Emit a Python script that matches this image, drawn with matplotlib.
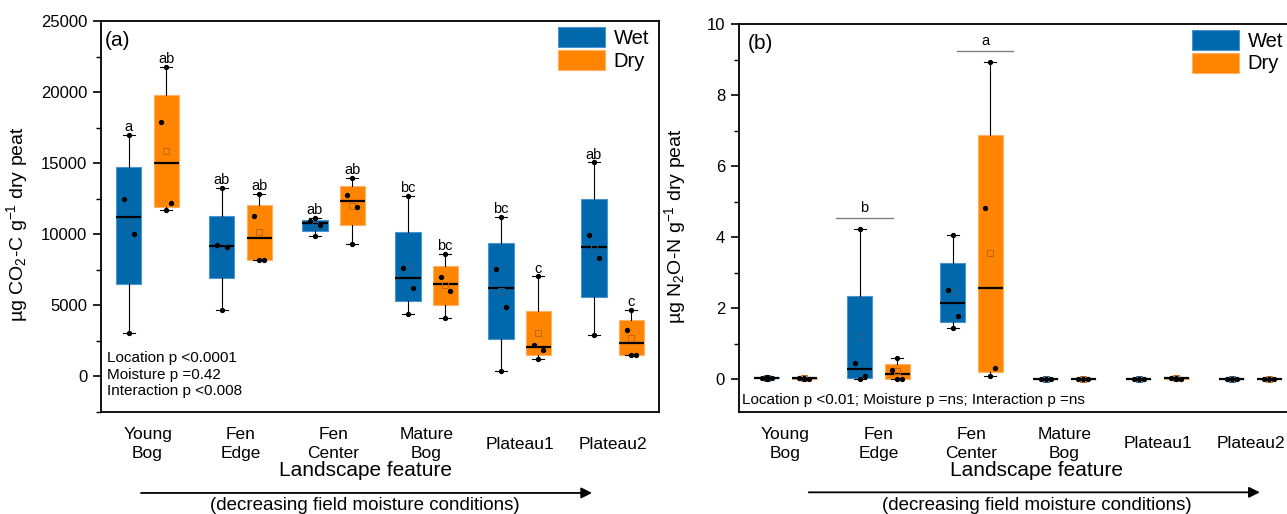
import numpy as np
import matplotlib
matplotlib.use("Agg")
import matplotlib.pyplot as plt
import matplotlib.transforms as mtransforms
from matplotlib.patches import Patch
from matplotlib.ticker import MultipleLocator

plt.rcParams['font.family'] = ['Liberation Sans', 'DejaVu Sans']
plt.rcParams['mathtext.fontset'] = 'custom'
plt.rcParams['mathtext.rm'] = 'Liberation Sans'
plt.rcParams['mathtext.it'] = 'Liberation Sans:italic'

# --- data (4 samples per box) ---
sites = ["Young\nBog", "Fen\nEdge", "Fen\nCenter", "Mature\nBog", "Plateau1", "Plateau2"]

co2_wet = [[17000, 12460, 9980, 3030],
           [13240, 9230, 9080, 4670],
           [11105, 10915, 10634, 9838],
           [12676, 7629, 6176, 4388],
           [11197, 7512, 4859, 352],
           [15047, 9908, 8287, 2910]]
co2_dry = [[21760, 17887, 12159, 11669],
           [12816, 11289, 8169, 8169],
           [13966, 12769, 11925, 9317],
           [8591, 6972, 5986, 4061],
           [7019, 2206, 1854, 1173],
           [4670, 3240, 1455, 1455]]
co2_wet_letters = ["a", "ab", "ab", "bc", "bc", "ab"]
co2_dry_letters = ["ab", "ab", "ab", "bc", "c", "c"]

n2o_wet = [[0.06, 0.04, 0.02, 0.01],
           [4.23, 0.46, 0.08, 0.00],
           [4.05, 2.50, 1.77, 1.45],
           [0.01, 0.00, 0.00, 0.00],
           [0.01, 0.01, 0.00, 0.00],
           [0.01, 0.00, 0.00, 0.00]]
n2o_dry = [[0.03, 0.02, 0.01, 0.00],
           [0.59, 0.26, 0.00, 0.00],
           [8.92, 4.83, 0.32, 0.08],
           [0.01, 0.01, 0.00, 0.00],
           [0.03, 0.02, 0.01, 0.00],
           [0.01, 0.00, 0.00, 0.00]]
n2o_bar_sites = [2, 3]
n2o_bar_y = [4.53, 9.24]
n2o_bar_letters = ["b", "a"]

BLUE = "#0068ab"
ORANGE = "#ff8500"


def box_stats(groups):
    stats = []
    for vals in groups:
        v = np.asarray(vals, float)
        q1, med, q3 = np.percentile(v, [25, 50, 75], method="midpoint")
        stats.append(dict(whislo=v.min(), q1=q1, med=med, q3=q3,
                          whishi=v.max(), mean=v.mean(), fliers=[]))
    return stats


def draw_boxes(ax, groups, positions, color, edge, meanc):
    ax.bxp(box_stats(groups), positions=positions, widths=0.27,
           patch_artist=True, showmeans=True, showfliers=False, manage_ticks=False,
           boxprops=dict(facecolor=color, edgecolor=edge, linewidth=0.8),
           medianprops=dict(color="black", linewidth=1.6),
           whiskerprops=dict(color="black", linewidth=0.8),
           capprops=dict(color="black", linewidth=0.8),
           meanprops=dict(marker="s", markerfacecolor="none", markeredgecolor=meanc,
                          markersize=4.5, markeredgewidth=0.7))
    # raw samples on top of the boxes
    offs = [0.0, -0.05, 0.05, 0.0]
    for p, vals in zip(positions, groups):
        vs = sorted(vals, reverse=True)
        ax.plot([p + o for o in offs[:len(vs)]], vs, "o", color="black",
                markersize=2.8, zorder=5)


def style_axes(ax, major, minor):
    for s in ax.spines.values():
        s.set_linewidth(1.3)
    ax.yaxis.set_major_locator(MultipleLocator(major))
    ax.yaxis.set_minor_locator(MultipleLocator(minor))
    ax.tick_params(axis="y", which="major", direction="out", length=6, width=1.2,
                   labelsize=12, pad=4)
    ax.tick_params(axis="y", which="minor", direction="out", length=3.5, width=1.0)
    ax.tick_params(axis="x", which="both", bottom=False, labelbottom=False)
    ax.set_xlim(0.5, 6.5)


def bottom_labels(ax, arrow_from, arrow_to, text_x):
    trans = mtransforms.blended_transform_factory(ax.transData, ax.transAxes)
    for i, name in enumerate(sites):
        ax.text(i + 1, -0.082, name, transform=trans, ha="center", va="center",
                fontsize=12.5, linespacing=1.35, clip_on=False)
    ax.text(text_x, -0.15, "Landscape feature", transform=trans, ha="center",
            va="center", fontsize=15, clip_on=False)
    ax.annotate("", xy=(arrow_to, -0.207), xytext=(arrow_from, -0.207),
                xycoords=trans, textcoords=trans, annotation_clip=False,
                arrowprops=dict(arrowstyle="-|>", color="black", lw=1.3,
                                mutation_scale=16, shrinkA=0, shrinkB=0))
    ax.text(text_x, -0.24, "(decreasing field moisture conditions)", transform=trans,
            ha="center", va="center", fontsize=13.5, clip_on=False)


def add_legend(ax, x):
    handles = [Patch(facecolor=BLUE, edgecolor="#4a95d0", linewidth=0.8),
               Patch(facecolor=ORANGE, edgecolor="#ffb060", linewidth=0.8)]
    ax.legend(handles, ["Wet", "Dry"], loc="upper left", bbox_to_anchor=(x, 0.985),
              frameon=False, fontsize=14.5, handlelength=2.35, handleheight=1.15,
              handletextpad=0.4, labelspacing=0.1, borderpad=0, borderaxespad=0)


fig = plt.figure(figsize=(12.87, 5.14), dpi=100)
ax1 = fig.add_axes([0.0785, 0.1984, 0.4336, 0.7607])
ax2 = fig.add_axes([0.5742, 0.1984, 0.4336, 0.7549])

pos = np.arange(1, len(sites) + 1)
wet_pos = pos - 0.2
dry_pos = pos + 0.2

# (a) CO2
draw_boxes(ax1, co2_wet, wet_pos, BLUE, "#4a95d0", "#2b5d8c")
draw_boxes(ax1, co2_dry, dry_pos, ORANGE, "#ffb060", "#c0651a")
for p, vals, lab in zip(wet_pos, co2_wet, co2_wet_letters):
    ax1.text(p, max(vals) + 60, lab, ha="center", va="bottom", fontsize=10.5)
for p, vals, lab in zip(dry_pos, co2_dry, co2_dry_letters):
    ax1.text(p, max(vals) + 60, lab, ha="center", va="bottom", fontsize=10.5)
ax1.set_ylim(-2535, 25000)
style_axes(ax1, 5000, 2500)
ax1.set_ylabel("\u00b5g CO$_2$-C g$^{\\mathrm{-1}}$ dry peat", fontsize=14)
ax1.yaxis.set_label_coords(-0.128, 0.48)
ax1.text(0.007, 0.951, "(a)", transform=ax1.transAxes, ha="left", va="center",
         fontsize=15)
ax1.text(0.011, 0.155, "Location p <0.0001\nMoisture p =0.42\nInteraction p <0.008",
         transform=ax1.transAxes, ha="left", va="top", fontsize=11, linespacing=1.2)
add_legend(ax1, 0.819)
bottom_labels(ax1, 0.93, 5.78, 3.34)

# (b) N2O
draw_boxes(ax2, n2o_wet, wet_pos, BLUE, "#4a95d0", "#2b5d8c")
draw_boxes(ax2, n2o_dry, dry_pos, ORANGE, "#ffb060", "#c0651a")
bar_span = [(-0.46, 0.16), (-0.16, 0.45)]
for site, y, lab, (a, b) in zip(n2o_bar_sites, n2o_bar_y, n2o_bar_letters, bar_span):
    ax2.plot([site + a, site + b], [y, y], color="#808080", lw=1.0)
    ax2.text(site + (a + b) / 2, y + 0.08, lab, ha="center", va="bottom", fontsize=10.5)
ax2.set_ylim(-0.93, 10)
style_axes(ax2, 2, 1)
ax2.set_ylabel("\u00b5g N$_2$O-N g$^{\\mathrm{-1}}$ dry peat", fontsize=14)
ax2.yaxis.set_label_coords(-0.092, 0.48)
ax2.text(0.016, 0.951, "(b)", transform=ax2.transAxes, ha="left", va="center",
         fontsize=15)
ax2.text(0.005, 0.031, "Location p <0.01; Moisture p =ns; Interaction p =ns",
         transform=ax2.transAxes, ha="left", va="center", fontsize=11)
add_legend(ax2, 0.812)
bottom_labels(ax2, 1.25, 6.1, 3.7)

fig.savefig("out.png", dpi=100)
